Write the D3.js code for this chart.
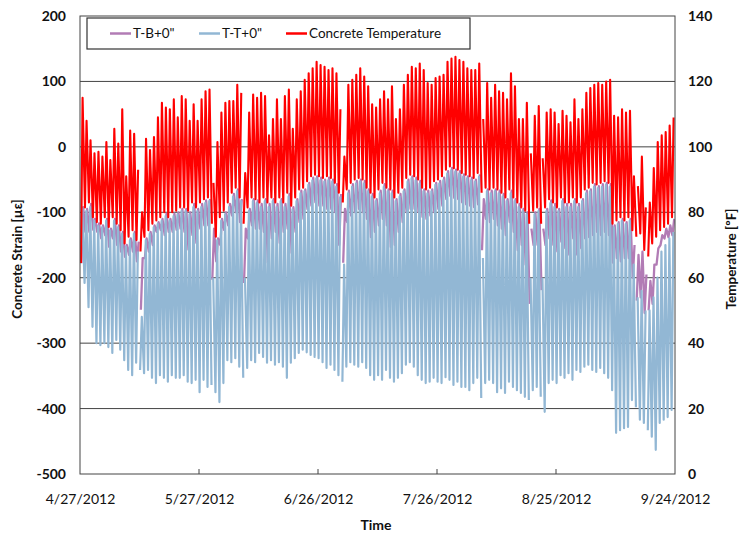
<!DOCTYPE html>
<html>
<head>
<meta charset="utf-8">
<script src="https://cdn.jsdelivr.net/npm/d3@7"></script>
<style>
  body { margin: 0; background: #fff; }
  svg text { font-family: Lato, "Liberation Sans", sans-serif; fill: #111; }
</style>
</head>
<body>
<svg id="chart"></svg>
<script>
// axis ticks
const tickDates = ["4/27/2012", "5/27/2012", "6/26/2012", "7/26/2012", "8/25/2012", "9/24/2012"];
const strainTicks = [200, 100, 0, -100, -200, -300, -400, -500];
const tempTicks = [0, 20, 40, 60, 80, 100, 120, 140];
const seriesNames = ['T-B+0"', 'T-T+0"', 'Concrete Temperature'];

// daily highs / lows, one value per day starting 4/27/2012
// T-B+0" strain [microstrain]
const tbMax = [-92,-95,-87,-110,-117,-120,-110,-125,-110,-120,
  -130,-150,-140,-130,-145,-170,-140,-130,-120,-115,
  -110,-102,-110,-102,-100,-95,-95,-100,-87,-95,
  -87,-82,-80,-125,-140,-110,-100,-87,-72,-65,
  -80,-125,-95,-80,-82,-87,-80,-87,-80,-87,
  -80,-87,-72,-92,-80,-67,-65,-55,-47,-45,
  -47,-50,-47,-50,-57,-72,-95,-67,-57,-52,
  -50,-52,-65,-72,-80,-67,-57,-65,-67,-80,
  -72,-65,-50,-45,-47,-52,-65,-67,-65,-55,
  -52,-47,-37,-32,-35,-37,-42,-45,-47,-50,
  -42,-80,-65,-67,-65,-67,-72,-80,-67,-80,
  -87,-95,-100,-125,-100,-95,-125,-95,-82,-87,
  -95,-80,-87,-87,-80,-87,-80,-67,-65,-57,
  -60,-57,-55,-57,-120,-115,-110,-115,-110,-150,
  -165,-160,-195,-205,-180,-155,-135,-125,-120,-110];
const tbMin = [-178,-130,-130,-127,-130,-140,-135,-153,-140,-150,
  -160,-168,-165,-160,-175,-249,-170,-160,-150,-130,
  -127,-135,-130,-130,-127,-125,-130,-157,-135,-147,
  -125,-120,-120,-203,-175,-150,-127,-120,-105,-100,
  -115,-208,-140,-120,-125,-125,-130,-177,-140,-130,
  -147,-130,-125,-162,-130,-115,-110,-95,-90,-85,
  -90,-90,-95,-95,-100,-150,-177,-115,-105,-100,
  -95,-100,-110,-138,-130,-120,-110,-120,-153,-150,
  -130,-115,-100,-95,-95,-100,-107,-110,-105,-100,
  -95,-90,-80,-75,-78,-80,-85,-88,-90,-92,
  -88,-158,-110,-115,-110,-120,-125,-135,-115,-130,
  -158,-150,-180,-240,-150,-150,-219,-150,-140,-150,
  -160,-145,-155,-165,-140,-165,-155,-140,-138,-135,
  -130,-135,-130,-135,-177,-170,-175,-170,-170,-200,
  -235,-230,-254,-250,-240,-180,-150,-140,-138,-135];

// T-T+0" strain [microstrain]
const ttMax = [-95,-98,-92,-113,-121,-123,-113,-128,-113,-123,
  -133,-153,-143,-133,-160,-260,-143,-133,-123,-118,
  -113,-106,-113,-106,-103,-98,-98,-103,-92,-98,
  -92,-86,-83,-200,-143,-113,-103,-92,-76,-68,
  -83,-200,-98,-83,-86,-92,-83,-92,-83,-92,
  -83,-92,-76,-96,-83,-71,-68,-58,-51,-48,
  -51,-53,-51,-53,-61,-76,-180,-71,-61,-56,
  -53,-56,-68,-76,-83,-71,-61,-68,-71,-83,
  -76,-68,-53,-48,-51,-56,-68,-71,-68,-58,
  -56,-51,-41,-36,-38,-41,-46,-48,-51,-53,
  -46,-170,-68,-71,-68,-71,-76,-83,-71,-83,
  -92,-98,-103,-200,-103,-98,-200,-98,-86,-92,
  -98,-83,-92,-92,-83,-92,-83,-71,-68,-61,
  -63,-61,-58,-61,-123,-118,-113,-118,-113,-180,
  -230,-220,-250,-250,-230,-200,-160,-150,-140,-130];
const ttMin = [-178,-208,-245,-275,-300,-303,-300,-306,-315,-295,
  -310,-326,-341,-349,-330,-341,-346,-341,-353,-361,
  -349,-353,-359,-349,-353,-353,-349,-359,-361,-356,
  -375,-356,-367,-364,-375,-390,-361,-326,-329,-323,
  -336,-353,-338,-326,-329,-315,-321,-330,-326,-333,
  -329,-336,-353,-330,-323,-315,-310,-314,-318,-321,
  -323,-329,-338,-333,-341,-349,-359,-336,-329,-333,
  -336,-329,-338,-349,-356,-349,-356,-341,-353,-359,
  -353,-346,-333,-329,-336,-349,-356,-361,-359,-353,
  -359,-361,-352,-356,-364,-359,-367,-367,-372,-361,
  -353,-384,-361,-356,-361,-375,-369,-376,-359,-367,
  -372,-376,-382,-387,-372,-367,-382,-405,-361,-356,
  -361,-349,-353,-346,-356,-341,-344,-336,-333,-341,
  -344,-338,-346,-353,-372,-437,-433,-430,-428,-387,
  -398,-417,-422,-433,-443,-463,-422,-417,-413,-402];

// Concrete temperature [F]
const tempMax = [115,108,102,98,98.5,97,101.5,96,105.5,101,
  111.5,91,105,104,93,80,102.5,99,103,109,
  113.5,112,111.5,114.5,109,115.5,114.5,108,113,108,
  114.5,117,117.5,89,101.5,110.5,113.5,114,114,119,
  116.5,92,110.5,116,115,116.5,115.5,103.5,108.5,114.5,
  108.5,115.5,117.5,105.5,114.5,117,120.5,122.5,124,126,
  125,124.5,123.5,124,122.5,111.5,97,119,120.5,122,
  124,121.5,118.5,113,112,114.5,117,114.5,118.5,108.5,
  111.5,119,122,124.5,124,125.5,123.5,119.5,119,121,
  121.5,122,126,127,127.5,126.5,126,124,123.5,123.5,
  125.5,108.5,119.5,115,119,117,116.5,114.5,122.5,118.5,
  108.5,108.5,113.5,98,109.5,112.5,96.5,110.5,111.5,110.5,
  107,111,109.5,107.5,114.5,108.5,111.5,116.5,118,119,
  119.5,119,120,120.5,109.5,109,111.5,110.5,111,91,
  88,97,81.5,83,93.5,101.5,103.5,104.5,106.5,109];
const tempMin = [64.5,81.5,83,78.5,77,76.5,78.5,75.5,78.5,76.5,
  74.5,70.5,72.5,74.5,71.5,68,72.5,74.5,76.5,77.5,
  78.5,80,78.5,80,80.5,81.5,81.5,80.5,83,81.5,
  83,84,84.5,76.5,72.5,78.5,80.5,83,86,87.5,
  84.5,76.5,81.5,84.5,84,83,84.5,83,84.5,83,
  84.5,83,86,82,84.5,87,87.5,89.5,91,91.5,
  91,90.5,91,90.5,89,86,83,87,89,90,
  90.5,90,87.5,86,84.5,87,89,87.5,87,84.5,
  86,87.5,90.5,91.5,91,90,87.5,87,87.5,89.5,
  90,91,93,94,93.5,93,92,91.5,91,90.5,
  92,86,87.5,87,87.5,87,86,84.5,87,84.5,
  83,81.5,80.5,76.5,80.5,81.5,76.5,81.5,84,83,
  81.5,84.5,83,83,84.5,83,84.5,87,87.5,89,
  88.5,89,89.5,89,76.5,77.5,78.5,77.5,78.5,74.5,
  72.5,73.5,68.5,66.5,70.5,72.5,74.5,75.5,76.5,78.5];

// logger dropouts (days after 4/27/2012) where every line breaks
const gapDays = [15.05, 33.3, 41.2, 66.1, 101.3, 113.4, 116.4, 140.3, 142.9];


class DualAxisChart {

  constructor(_config) {
    this.config = {
      parentElement: _config.parentElement,
      containerWidth: _config.containerWidth || 739,
      containerHeight: _config.containerHeight || 535,
      margin: _config.margin || {top: 16, right: 64, bottom: 61, left: 80}
    };
    this.initVis();
  }

  initVis() {
    let vis = this;

    vis.width = vis.config.containerWidth - vis.config.margin.left - vis.config.margin.right;
    vis.height = vis.config.containerHeight - vis.config.margin.top - vis.config.margin.bottom;

    vis.svg = d3.select(vis.config.parentElement)
      .attr('width', vis.config.containerWidth)
      .attr('height', vis.config.containerHeight);

    vis.chart = vis.svg.append('g')
      .attr('transform', `translate(${vis.config.margin.left},${vis.config.margin.top})`);

    vis.parseDate = d3.utcParse('%m/%d/%Y');
    vis.ticks = tickDates.map(vis.parseDate);
    vis.day0 = vis.ticks[0];

    vis.xScale = d3.scaleUtc()
      .domain([vis.ticks[0], vis.ticks[vis.ticks.length - 1]])
      .range([0, vis.width]);
    vis.yScale = d3.scaleLinear()
      .domain([-500, 200])
      .range([vis.height, 0]);
    vis.yTempScale = d3.scaleLinear()
      .domain([0, 140])
      .range([vis.height, 0]);

    vis.updateVis();
  }

  // one point per daily low and high, broken at the dropouts
  toPoints(mins, maxs, tLow, tHigh) {
    let vis = this;
    let pts = [];
    mins.forEach((v, i) => {
      pts.push({t: i + tLow, v: v});
      pts.push({t: i + tHigh, v: maxs[i]});
    });
    gapDays.forEach(g => pts.push({t: g, v: null}));
    pts.sort((a, b) => a.t - b.t);
    return pts.map(p => ({date: new Date(+vis.day0 + p.t * 864e5), v: p.v}));
  }

  updateVis() {
    let vis = this;
    vis.series = [
      {name: seriesNames[0], color: '#b27cb5', width: 2.3, scale: vis.yScale, data: vis.toPoints(tbMin, tbMax, 0.35, 0.8)},
      {name: seriesNames[1], color: '#92b7d4', width: 2.2, scale: vis.yScale, data: vis.toPoints(ttMin, ttMax, 0.15, 0.58)},
      {name: seriesNames[2], color: '#ff0000', width: 2.1, scale: vis.yTempScale, data: vis.toPoints(tempMin, tempMax, 0.25, 0.65)}
    ];
    vis.renderVis();
  }

  renderVis() {
    let vis = this;

    vis.svg.append('defs').append('clipPath').attr('id', 'plot-clip')
      .append('rect').attr('width', vis.width).attr('height', vis.height);

    // horizontal gridlines
    vis.chart.append('g')
      .selectAll('line')
      .data(strainTicks.filter(d => d > -500 && d < 200))
      .join('line')
        .attr('x1', 0).attr('x2', vis.width)
        .attr('y1', d => vis.yScale(d)).attr('y2', d => vis.yScale(d))
        .attr('stroke', '#444').attr('stroke-width', 1);

    // lines
    vis.chart.append('g')
      .attr('clip-path', 'url(#plot-clip)')
      .selectAll('path')
      .data(vis.series)
      .join('path')
        .attr('fill', 'none')
        .attr('stroke', d => d.color)
        .attr('stroke-width', d => d.width)
        .attr('stroke-linejoin', 'round')
        .attr('d', s => d3.line()
          .defined(d => d.v != null)
          .x(d => vis.xScale(d.date))
          .y(d => s.scale(d.v))(s.data));

    // plot frame
    vis.chart.append('rect')
      .attr('width', vis.width).attr('height', vis.height)
      .attr('fill', 'none').attr('stroke', '#444').attr('stroke-width', 1);

    // x tick marks point inward
    vis.chart.append('g')
      .selectAll('line')
      .data(vis.ticks.slice(1, -1))
      .join('line')
        .attr('x1', d => vis.xScale(d)).attr('x2', d => vis.xScale(d))
        .attr('y1', vis.height).attr('y2', vis.height - 5)
        .attr('stroke', '#444');

    // axes
    let xAxis = d3.axisBottom(vis.xScale)
      .tickValues(vis.ticks)
      .tickFormat((d, i) => tickDates[i])
      .tickSize(0).tickPadding(20);
    let yAxis = d3.axisLeft(vis.yScale)
      .tickValues(strainTicks).tickFormat(d => String(d))
      .tickSize(0).tickPadding(14);
    let yTempAxis = d3.axisRight(vis.yTempScale)
      .tickValues(tempTicks).tickFormat(d => String(d))
      .tickSize(0).tickPadding(13);

    let xAxisG = vis.chart.append('g')
      .attr('transform', `translate(0,${vis.height})`)
      .call(xAxis);
    xAxisG.selectAll('text').attr('font-size', 14).attr('font-family', 'Lato').attr('fill', '#222');

    let yAxisG = vis.chart.append('g').call(yAxis);
    yAxisG.selectAll('text').attr('font-size', 14).attr('font-weight', 'bold').attr('font-family', 'Lato').attr('fill', '#111');

    let yTempAxisG = vis.chart.append('g')
      .attr('transform', `translate(${vis.width},0)`)
      .call(yTempAxis);
    yTempAxisG.selectAll('text').attr('font-size', 14).attr('font-weight', 'bold').attr('font-family', 'Lato').attr('fill', '#111');

    [xAxisG, yAxisG, yTempAxisG].forEach(g => g.select('.domain').remove());

    // axis titles
    vis.svg.append('text')
      .attr('transform', `translate(22,${vis.config.margin.top + vis.height / 2 + 14}) rotate(-90)`)
      .attr('text-anchor', 'middle')
      .attr('font-size', 13.5).attr('font-weight', 'bold')
      .text('Concrete Strain [µɛ]');
    vis.svg.append('text')
      .attr('transform', `translate(736,${vis.config.margin.top + vis.height / 2 + 14}) rotate(-90)`)
      .attr('text-anchor', 'middle')
      .attr('font-size', 13.5).attr('font-weight', 'bold')
      .text('Temperature [ºF]');
    vis.svg.append('text')
      .attr('x', 376).attr('y', 530)
      .attr('text-anchor', 'middle')
      .attr('font-size', 14).attr('font-weight', 'bold')
      .text('Time');

    // legend
    let legend = vis.svg.append('g').attr('transform', 'translate(87,18)');
    legend.append('rect')
      .attr('width', 383).attr('height', 31)
      .attr('fill', '#fff').attr('stroke', '#333').attr('stroke-width', 1.2);
    let legendX = [23, 112, 199];
    let item = legend.selectAll('.legend-item')
      .data(vis.series)
      .join('g')
        .attr('class', 'legend-item')
        .attr('transform', (d, i) => `translate(${legendX[i]},15.5)`);
    item.append('line')
      .attr('x1', 0).attr('x2', 21)
      .attr('stroke', d => d.color).attr('stroke-width', 2.5);
    item.append('text')
      .attr('x', 23).attr('dy', '0.35em')
      .attr('font-size', 13.5).attr('fill', '#222')
      .text(d => d.name);
  }
}

let chart = new DualAxisChart({parentElement: '#chart'});
</script>
</body>
</html>
